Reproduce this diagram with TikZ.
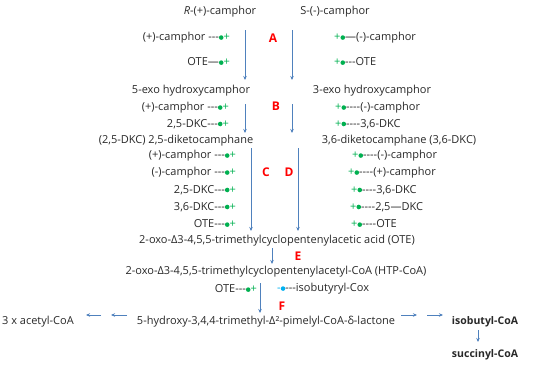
\documentclass[tikz,border=0pt]{standalone}
\usepackage{fontspec}
\setmainfont{Open Sans}
\usepackage{xcolor}
\usetikzlibrary{arrows.meta}

\definecolor{pathblue}{RGB}{79,129,189}
\definecolor{dotgreen}{RGB}{0,176,80}
\definecolor{dotcyan}{RGB}{0,176,240}
\definecolor{txtgray}{RGB}{40,40,40}

\newcommand{\gdot}{\tikz[baseline=-0.3em]\fill[dotgreen] (0,0) circle (2.3pt);}
\newcommand{\cdt}{\tikz[baseline=-0.3em]\fill[dotcyan] (0,0) circle (2.3pt);}
\newcommand{\gp}{\gdot\textcolor{dotgreen}{+}}
\newcommand{\pg}{\textcolor{dotgreen}{+}\gdot}

\tikzset{
  flow/.style={pathblue,line width=1pt,-{Stealth[length=4pt,width=3.5pt]}},
  enz/.style={red,font=\fontsize{12}{14}\selectfont\bfseries},
  bold/.style={font=\fontsize{10.5}{12}\selectfont\bfseries},
}

\begin{document}
\begin{tikzpicture}[x=1pt,y=-1pt,font=\fontsize{11}{13}\selectfont,text=txtgray,inner sep=0pt]
  \useasboundingbox (0,0) rectangle (550,365);
  % starting camphors
  \node (rcam) at (220,12) {\textit{R}-(+)-camphor};
  \node (scam) at (335,12) {S-(-)-camphor};
  \node[anchor=east] (aL1) at (230,38) {(+)-camphor -{}-{}-\gp};
  \node[anchor=east] (aL2) at (230,62) {OTE---\gp};
  \node[anchor=west] (aR1) at (334,38) {\pg---(-)-camphor};
  \node[anchor=west] (aR2) at (334,62) {\pg-{}-{}-OTE};
  \node[enz] (labA) at (273,38) {A};
  \coordinate (aLs) at (245,30); \coordinate (aLe) at (245,80);
  \coordinate (aRs) at (292,30); \coordinate (aRe) at (292,80);
  \draw[flow] (aLs) -- (aLe);
  \draw[flow] (aRs) -- (aRe);

  % hydroxycamphors
  \node (exo5) at (191,91) {5-exo hydroxycamphor};
  \node (exo3) at (372,91) {3-exo hydroxycamphor};
  \node[anchor=east] (bL1) at (229,108) {(+)-camphor -{}-{}-\gp};
  \node[anchor=east] (bL2) at (229,124) {2,5-DKC-{}-{}-\gp};
  \node[anchor=west] (bR1) at (335,108) {\pg-{}-{}-{}-(-)-camphor};
  \node[anchor=west] (bR2) at (335,124) {\pg-{}-{}-{}-3,6-DKC};
  \node[enz] (labB) at (276,106) {B};
  \coordinate (bLs) at (245,104); \coordinate (bLe) at (245,133);
  \coordinate (bRs) at (292,104); \coordinate (bRe) at (292,133);
  \draw[flow] (bLs) -- (bLe);
  \draw[flow] (bRs) -- (bRe);

  % diketocamphanes
  \node (dkc25) at (176,141) {(2,5-DKC) 2,5-diketocamphane};
  \node (dkc36) at (399,141) {3,6-diketocamphane (3,6-DKC)};
  \foreach \t/\y [count=\i] in {{(+)-camphor -{}-{}-}/156,{(-)-camphor -{}-{}-}/173,
      {2,5-DKC-{}-{}-}/190,{3,6-DKC-{}-{}-}/207,{OTE-{}-{}-}/224}
    \node[anchor=east] (cL\i) at (236,\y) {\t\gp};
  \foreach \t/\x/\y [count=\i] in {{(-)-camphor}/352/156,{(+)-camphor}/348/173,
      {3,6-DKC}/351/190,{2,5---DKC}/350/207,{OTE}/351/224}
    \node[anchor=west] (dR\i) at (\x,\y) {\pg-{}-{}-{}-\t};
  \node[enz] (labC) at (266,172) {C};
  \node[enz] (labD) at (289,172) {D};
  \coordinate (cs) at (251,148); \coordinate (ce) at (251,231);
  \coordinate (ds) at (298,148); \coordinate (de) at (298,231);
  \draw[flow] (cs) -- (ce);
  \draw[flow] (ds) -- (de);

  % OTE and HTP-CoA
  \node (ote) at (277,241) {2-oxo-Δ3-4,5,5-trimethylcyclopentenylacetic acid (OTE)};
  \node (htp) at (276,272) {2-oxo-Δ3-4,5,5-trimethylcyclopentenylacetyl-CoA (HTP-CoA)};
  \coordinate (es) at (272,248); \coordinate (ee) at (272,264);
  \draw[flow] (es) -- (ee);
  \node[enz] (labE) at (298,256) {E};
  \node[anchor=east] (fL) at (257,289) {OTE-{}-{}-\gp};
  \node[anchor=west] (fR) at (277,289) {\textcolor{dotcyan}{-}\cdt-{}-{}-isobutyryl-Cox};
  \node[enz] (labF) at (282,306) {F};
  \coordinate (fs) at (260,283); \coordinate (fe) at (260,313);
  \draw[flow] (fs) -- (fe);

  % products
  \node (lact) at (266,322) {5-hydroxy-3,4,4-trimethyl-Δ²-pimelyl-CoA-δ-lactone};
  \node (acoa) at (38,322) {3 x acetyl-CoA};
  \node[bold] (ibcoa) at (485,322) {isobutyl-CoA};
  \node[bold] (sccoa) at (485,355) {succinyl-CoA};
  \foreach \a/\b [count=\i] in {127/111,101/86} {
    \coordinate (l\i s) at (\a,315); \coordinate (l\i e) at (\b,315);
    \draw[flow] (l\i s) -- (l\i e);
  }
  \foreach \a/\b [count=\i] in {401/417,427/443} {
    \coordinate (r\i s) at (\a,315); \coordinate (r\i e) at (\b,315);
    \draw[flow] (r\i s) -- (r\i e);
  }
  \coordinate (ss) at (478,330); \coordinate (se) at (478,342);
  \draw[flow] (ss) -- (se);
\end{tikzpicture}
\end{document}
